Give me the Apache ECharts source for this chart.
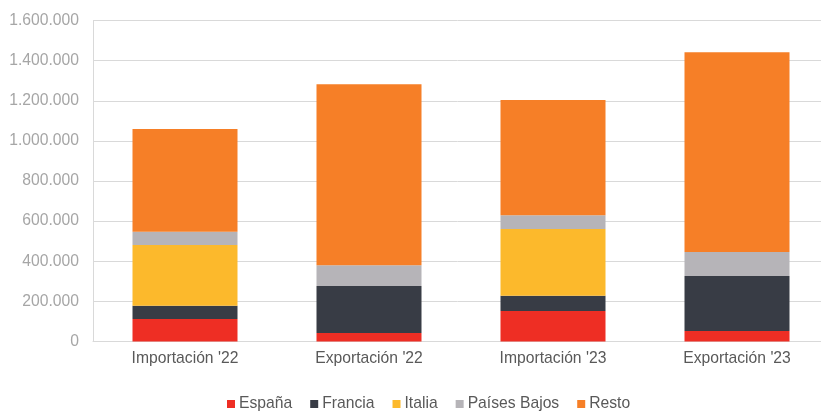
<!DOCTYPE html>
<html><head><meta charset="utf-8">
<script src="https://cdn.jsdelivr.net/npm/echarts@6/dist/echarts.min.js"></script>
<style>html,body{margin:0;padding:0;background:#fff}#c{width:821px;height:412px}</style>
</head><body><div id="c"></div>
<script>
const categories = ["Importación '22", "Exportación '22", "Importación '23", "Exportación '23"];
const espana = [112000, 42000, 152000, 52000];
const francia = [66000, 235000, 76000, 275000];
const italia = [303000, 0, 333000, 0];
const paisesBajos = [66000, 103000, 68000, 119000];
const resto = [512000, 902000, 575000, 996000];
const seriesNames = ["España", "Francia", "Italia", "Países Bajos", "Resto"];
const colors = ["#ee2e24", "#383c45", "#fcb92c", "#b6b4b8", "#f67f27"];
const yTicks = [0, 200000, 400000, 600000, 800000, 1000000, 1200000, 1400000, 1600000];

function fmt(v){ return String(v).replace(/\B(?=(\d{3})+(?!\d))/g, '.'); }

const dataSets = [espana, francia, italia, paisesBajos, resto];
const chart = echarts.init(document.getElementById('c'));
chart.setOption({
  animation: false,
  textStyle: { fontFamily: 'Liberation Sans, Arial, sans-serif' },
  color: colors,
  grid: { left: 93, width: 736, top: 20.5, height: 321, containLabel: false, outerBoundsMode: 'none' },
  legend: {
    top: 391, left: 222, icon: 'rect', itemWidth: 8, itemHeight: 8, itemGap: 18,
    textStyle: { color: '#595959', fontSize: 15.7, padding: [0,0,0,-1] }
  },
  xAxis: {
    type: 'category', data: categories,
    axisLine: { lineStyle: { color: '#d9d9d9', width: 1 } },
    axisTick: { show: false },
    axisLabel: { color: '#595959', fontSize: 15.7, margin: 9 }
  },
  yAxis: {
    type: 'value', min: 0, max: yTicks[yTicks.length-1], interval: 200000,
    axisLine: { show: true, lineStyle: { color: '#d9d9d9' } },
    axisTick: { show: false },
    splitLine: { lineStyle: { color: '#d9d9d9' } },
    axisLabel: { color: '#a6a6a6', fontSize: 15.7, margin: 14, formatter: v => fmt(v) }
  },
  series: seriesNames.map((n, i) => ({
    name: n, type: 'bar', stack: 'total', barWidth: 105,
    data: dataSets[i],
    itemStyle: { color: colors[i] }
  }))
});
</script></body></html>
